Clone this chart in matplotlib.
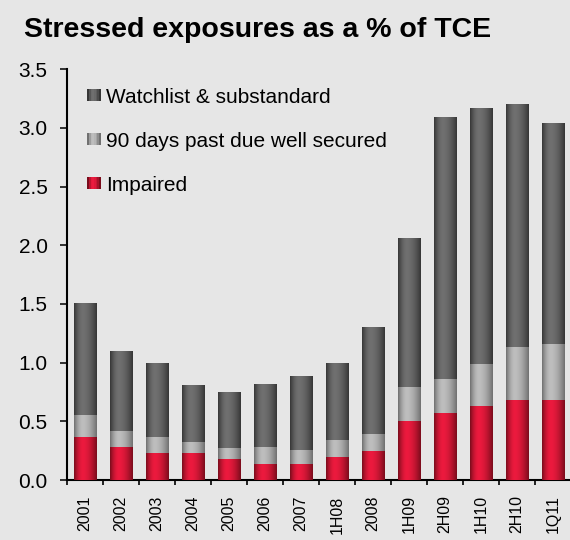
import numpy as np
import matplotlib
matplotlib.use("Agg")
import matplotlib.pyplot as plt
from matplotlib.patches import Patch, Rectangle
from matplotlib.legend_handler import HandlerBase

plt.rcParams['font.family'] = ['Liberation Sans', 'DejaVu Sans']

# ---- data ----
periods = ['2001', '2002', '2003', '2004', '2005', '2006', '2007',
           '1H08', '2008', '1H09', '2H09', '1H10', '2H10', '1Q11']
impaired = [0.37, 0.28, 0.23, 0.23, 0.18, 0.14, 0.14,
            0.20, 0.25, 0.50, 0.57, 0.63, 0.68, 0.68]
past_due = [0.18, 0.14, 0.14, 0.09, 0.09, 0.14, 0.12,
            0.14, 0.14, 0.29, 0.29, 0.36, 0.45, 0.48]
watchlist = [0.96, 0.68, 0.63, 0.49, 0.48, 0.54, 0.63,
             0.66, 0.91, 1.27, 2.23, 2.18, 2.07, 1.88]
series_names = ['Impaired', '90 days past due well secured', 'Watchlist & substandard']
y_ticks = [0.0, 0.5, 1.0, 1.5, 2.0, 2.5, 3.0, 3.5]

BG = '#e6e6e6'
# (edge colour, centre colour) for the shaded bars
shades = {
    'Impaired': ('#7a0c1c', '#ec1a3e'),
    '90 days past due well secured': ('#707070', '#bebebe'),
    'Watchlist & substandard': ('#363636', '#707070'),
}


def grad_colors(edge, mid, n=64):
    e = np.array(matplotlib.colors.to_rgb(edge))
    m = np.array(matplotlib.colors.to_rgb(mid))
    x = np.linspace(0, 1, n)
    peak = 0.38
    d = np.where(x < peak, (peak - x) / peak, (x - peak) / (1 - peak))
    w = 1 - d ** 1.8
    return e[None, :] * (1 - w[:, None]) + m[None, :] * w[:, None]


class GradHandler(HandlerBase):
    def __init__(self, edge, mid):
        super().__init__()
        self.cols = grad_colors(edge, mid, 8)

    def create_artists(self, legend, orig_handle, xdescent, ydescent,
                       width, height, fontsize, trans):
        n = len(self.cols)
        out = []
        for i, c in enumerate(self.cols):
            out.append(Rectangle((-xdescent + i * width / n, -ydescent),
                                 width / n + 0.3, height, facecolor=c,
                                 edgecolor='none', transform=trans))
        return out


fig = plt.figure(figsize=(5.7, 5.4), dpi=100, facecolor=BG)
ax = fig.add_axes([0.1175, 0.111, 0.884, 0.761])
ax.set_facecolor(BG)

x = np.arange(len(periods))
bottom = np.zeros(len(periods))
for name, vals in zip(series_names, [impaired, past_due, watchlist]):
    edge, mid = shades[name]
    bars = ax.bar(x, vals, width=0.63, bottom=bottom, color=mid,
                  edgecolor='none', zorder=2)
    img = grad_colors(edge, mid)[None, :, :]
    for b in bars:
        bx, by = b.get_x(), b.get_y()
        im = ax.imshow(img, extent=(bx, bx + b.get_width(), by, by + b.get_height()),
                       aspect='auto', interpolation='bilinear', zorder=3)
        im.set_clip_path(b)
    bottom += np.array(vals)

ax.set_xlim(-0.5, len(periods) - 0.5)
ax.set_ylim(0, 3.5)
ax.set_yticks(y_ticks)
ax.set_yticklabels([f'{v:.1f}' for v in y_ticks])
ax.set_xticks(x)
ax.set_xticklabels(periods, rotation=90)
ax.set_xticks(np.arange(-0.5, len(periods), 1.0), minor=True)
ax.tick_params(axis='x', which='major', length=0, pad=11, labelsize=11.5)
ax.tick_params(axis='x', which='minor', length=3.6, width=1.2, direction='out')
ax.tick_params(axis='y', length=5, width=1.1, direction='out', pad=9, labelsize=15)
for s in ['top', 'right']:
    ax.spines[s].set_visible(False)
for s in ['left', 'bottom']:
    ax.spines[s].set_linewidth(1.5)

handles = [Patch(label=n) for n in reversed(series_names)]
hmap = {h: GradHandler(*shades[h.get_label()]) for h in handles}
ax.legend(handles=handles, handler_map=hmap, loc='upper left',
          bbox_to_anchor=(0.024, 0.975), frameon=False, fontsize=15,
          handlelength=0.63, handleheight=0.5, handletextpad=0.25,
          labelspacing=1.2, borderaxespad=0)

fig.text(0.042, 1 - 37 / 540, 'Stressed exposures as a % of TCE',
         fontsize=20.5, fontweight='bold', va='baseline', ha='left')

fig.savefig('out.png', dpi=100, facecolor=BG)
